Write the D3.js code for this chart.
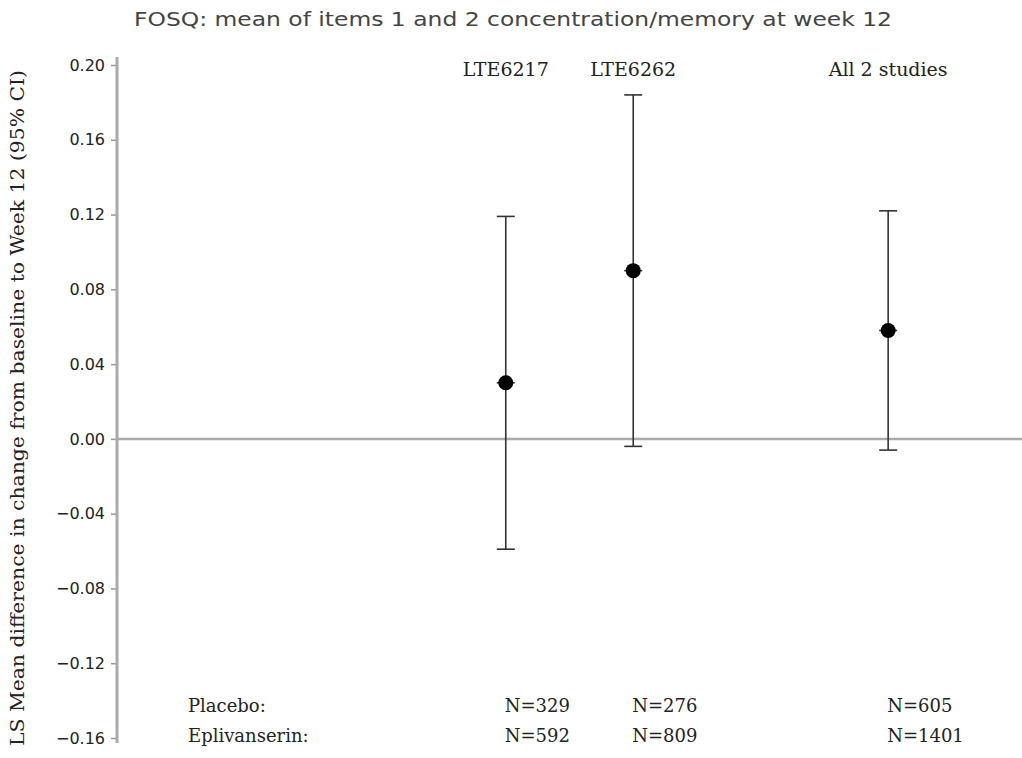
<!DOCTYPE html>
<html>
<head>
<meta charset="utf-8">
<script src="https://cdn.jsdelivr.net/npm/d3@7"></script>
<style>
  body { margin: 0; background: #fff; }
  svg { display: block; }
</style>
</head>
<body>
<div id="chart"></div>
<script>
// data
var studies = ["LTE6217", "LTE6262", "All 2 studies"];
var slots = [1, 2, 4];                 // horizontal slot of each study
var means = [0.030, 0.090, 0.058];
var lower = [-0.059, -0.004, -0.006];
var upper = [0.119, 0.184, 0.122];
var nPlacebo = [329, 276, 605];
var nEpli = [592, 809, 1401];
var groupLabels = ["Placebo:", "Eplivanserin:"];
var yTicks = [0.20, 0.16, 0.12, 0.08, 0.04, 0.00, -0.04, -0.08, -0.12, -0.16];

var W = 1022, H = 758;
var svg = d3.select("#chart").append("svg")
  .attr("width", W)
  .attr("height", H);

var x = d3.scaleLinear().domain([-2.05, 5.05]).range([117, 1022]);
var y = d3.scaleLinear().domain([-0.16, 0.20]).range([738, 65]);

var serif = "'DejaVu Serif', serif";

// title
svg.append("text")
  .attr("x", 513)
  .attr("y", 26)
  .attr("text-anchor", "middle")
  .attr("font-family", "'DejaVu Sans', sans-serif")
  .attr("font-size", 19)
  .attr("fill", "#444")
  .attr("textLength", 758)
  .attr("lengthAdjust", "spacingAndGlyphs")
  .text("FOSQ: mean of items 1 and 2 concentration/memory at week 12");

// y axis
var yAxis = svg.append("g")
  .attr("transform", "translate(117,0)")
  .call(d3.axisLeft(y).tickValues(yTicks).tickSize(6).tickPadding(6)
    .tickFormat(function(d) { return d3.format(".2f")(d).replace("-", "\u2212"); }));
yAxis.select(".domain").remove();
yAxis.selectAll(".tick line").attr("stroke", "#999").attr("stroke-width", 1.5);
yAxis.selectAll(".tick text")
  .attr("font-family", "'DejaVu Sans', sans-serif")
  .attr("font-size", 16)
  .attr("fill", "#222");
svg.append("line")
  .attr("x1", 117).attr("x2", 117)
  .attr("y1", 57).attr("y2", 743)
  .attr("stroke", "#aaa")
  .attr("stroke-width", 3);

// zero line
svg.append("line")
  .attr("x1", 117).attr("x2", W)
  .attr("y1", y(0)).attr("y2", y(0))
  .attr("stroke", "#aaa")
  .attr("stroke-width", 2.5);

// y axis title
svg.append("text")
  .attr("transform", "translate(24,408) rotate(-90)")
  .attr("text-anchor", "middle")
  .attr("font-family", serif)
  .attr("font-size", 18)
  .attr("fill", "#222")
  .attr("textLength", 676)
  .attr("lengthAdjust", "spacingAndGlyphs")
  .text("LS Mean difference in change from baseline to Week 12 (95% CI)");

// study headers
svg.selectAll(".hdr")
  .data(studies)
  .enter().append("text")
  .attr("class", "hdr")
  .attr("x", function(d, i) { return x(slots[i]); })
  .attr("y", 76)
  .attr("text-anchor", "middle")
  .attr("font-family", serif)
  .attr("font-size", 19)
  .attr("fill", "#222")
  .text(function(d) { return d; });

// error bars
var bars = svg.selectAll(".ci")
  .data(studies)
  .enter().append("g")
  .attr("class", "ci")
  .attr("stroke", "#333")
  .attr("stroke-width", 1.6);

bars.append("line")
  .attr("x1", function(d, i) { return x(slots[i]); })
  .attr("x2", function(d, i) { return x(slots[i]); })
  .attr("y1", function(d, i) { return y(upper[i]); })
  .attr("y2", function(d, i) { return y(lower[i]); });
bars.append("line")
  .attr("x1", function(d, i) { return x(slots[i]) - 9; })
  .attr("x2", function(d, i) { return x(slots[i]) + 9; })
  .attr("y1", function(d, i) { return y(upper[i]); })
  .attr("y2", function(d, i) { return y(upper[i]); });
bars.append("line")
  .attr("x1", function(d, i) { return x(slots[i]) - 9; })
  .attr("x2", function(d, i) { return x(slots[i]) + 9; })
  .attr("y1", function(d, i) { return y(lower[i]); })
  .attr("y2", function(d, i) { return y(lower[i]); });
bars.append("line")
  .attr("x1", function(d, i) { return x(slots[i]) - 9; })
  .attr("x2", function(d, i) { return x(slots[i]) + 9; })
  .attr("y1", function(d, i) { return y(means[i]); })
  .attr("y2", function(d, i) { return y(means[i]); });

// point estimates
svg.selectAll(".pt")
  .data(means)
  .enter().append("circle")
  .attr("class", "pt")
  .attr("cx", function(d, i) { return x(slots[i]); })
  .attr("cy", function(d) { return y(d); })
  .attr("r", 7.5)
  .attr("fill", "#000");

// N counts
var rows = [nPlacebo, nEpli];
var rowY = [712, 742];
rows.forEach(function(r, k) {
  svg.append("text")
    .attr("x", 188)
    .attr("y", rowY[k])
    .attr("font-family", serif)
    .attr("font-size", 18)
    .attr("fill", "#222")
    .text(groupLabels[k]);
  svg.selectAll(".n" + k)
    .data(r)
    .enter().append("text")
    .attr("class", "n" + k)
    .attr("x", function(d, i) { return x(slots[i]) - 1; })
    .attr("y", rowY[k])
    .attr("font-family", serif)
    .attr("font-size", 18)
    .attr("fill", "#222")
    .text(function(d) { return "N=" + d; });
});
</script>
</body>
</html>
